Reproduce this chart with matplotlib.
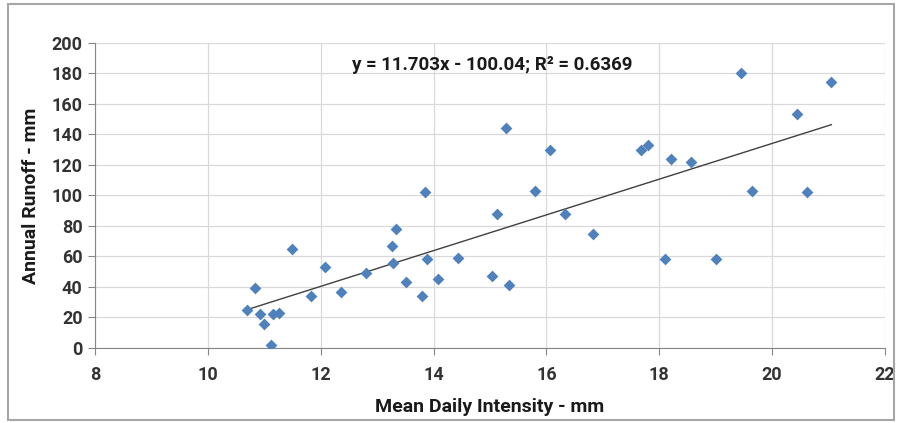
import matplotlib
matplotlib.use("Agg")
import matplotlib.pyplot as plt
from matplotlib.patches import Rectangle
import numpy as np

plt.rcParams['font.family'] = ['Roboto', 'DejaVu Sans']

# Mean daily intensity (mm) vs annual runoff (mm)
intensity = [10.69, 10.84, 10.93, 10.99, 11.15, 11.26, 11.11, 11.49, 11.82, 12.08,
             12.36, 12.81, 13.27, 13.28, 13.34, 13.51, 13.79, 13.88, 13.85, 14.08,
             14.43, 15.04, 15.13, 15.29, 15.34, 15.80, 16.06, 16.33, 16.83, 17.68,
             17.80, 18.10, 18.21, 18.57, 19.01, 19.44, 19.65, 20.44, 20.61, 21.05]
runoff = [25, 39, 22, 16, 22, 23, 2, 65, 34, 53,
          37, 49, 67, 56, 78, 43, 34, 58, 102, 45,
          59, 47, 88, 144, 41, 103, 130, 88, 75, 130,
          133, 58, 124, 122, 58, 180, 103, 153, 102, 174]

slope = 11.703
intercept = -100.04
r2 = 0.6369

fig = plt.figure(figsize=(9, 4.23), dpi=100)
ax = fig.add_axes([0.1056, 0.1773, 0.8777, 0.7217])

ax.scatter(intensity, runoff, marker='D', s=36, color='#4F81BD', zorder=3, linewidths=0)

xl = np.array([min(intensity), max(intensity)])
ax.plot(xl, slope * xl + intercept, color='#404040', lw=1, zorder=2)

ax.set_xlim(8, 22)
ax.set_ylim(0, 200)
ax.set_xticks(np.arange(8, 23, 2))
ax.set_yticks(np.arange(0, 201, 20))
ax.grid(True, color='#D9D9D9', lw=0.9)
ax.set_axisbelow(True)
for s in ['top', 'right']:
    ax.spines[s].set_visible(False)
for s in ['left', 'bottom']:
    ax.spines[s].set_color('#868686')
ax.tick_params(direction='out', length=5, color='#868686', labelsize=13,
               labelcolor='#333333')
for lab in ax.get_xticklabels() + ax.get_yticklabels():
    lab.set_fontweight('bold')
ax.tick_params(axis='x', pad=8)
ax.tick_params(axis='y', pad=4)

ax.set_xlabel('Mean Daily Intensity - mm', fontsize=14, fontweight='bold', color='#1a1a1a', labelpad=10)
ax.set_ylabel('Annual Runoff - mm', fontsize=14, fontweight='bold', color='#1a1a1a', labelpad=8)

ax.text(0.5025, 0.927, 'y = %.3fx - %.2f; R² = %.4f' % (slope, -intercept, r2),
        transform=ax.transAxes, ha='center', va='center', fontsize=13.5,
        fontweight='bold', color='#1a1a1a')

fig.patches.append(Rectangle((0.009, 0.007), 0.984, 0.983, transform=fig.transFigure,
                             fill=False, edgecolor='#A6A6A6', lw=1.5))

fig.savefig('out.png', dpi=100)
